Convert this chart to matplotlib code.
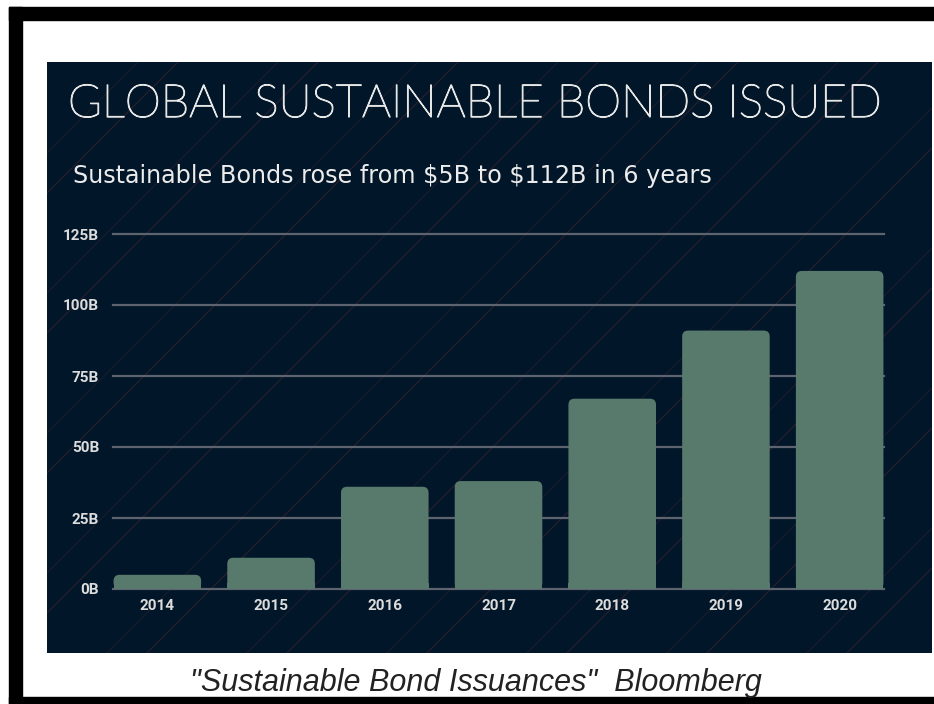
import matplotlib
matplotlib.use("Agg")
import matplotlib.pyplot as plt
from matplotlib.patches import Rectangle, FancyBboxPatch
import matplotlib.patheffects as pe
import numpy as np

years = ["2014", "2015", "2016", "2017", "2018", "2019", "2020"]
issued_billions = [5, 11, 36, 38, 67, 91, 112]
y_ticks = [0, 25, 50, 75, 100, 125]
y_tick_labels = ["0B", "25B", "50B", "75B", "100B", "125B"]

title = "GLOBAL SUSTAINABLE BONDS ISSUED"
subtitle = "Sustainable Bonds rose from \\$5B to \\$112B in 6 years"
caption = "\"Sustainable Bond Issuances\"  Bloomberg"

W, H = 934, 704
fig = plt.figure(figsize=(W / 100, H / 100), dpi=100, facecolor="white")

def fx(px):
    return px / W

def fy(py):
    return 1 - py / H

# black frame
fig.patches.append(Rectangle((fx(9), 0), fx(22) - fx(9), fy(7), transform=fig.transFigure,
                             color="black", zorder=0))
fig.patches.append(Rectangle((fx(9), fy(20)), 1 - fx(9), fy(7) - fy(20), transform=fig.transFigure,
                             color="black", zorder=0))
fig.patches.append(Rectangle((fx(9), 0), 1 - fx(9), fy(697), transform=fig.transFigure,
                             color="black", zorder=0))

# dark panel with faint pattern
panel_bg = "#011628"
bg = fig.add_axes([fx(47), fy(653), fx(932) - fx(47), fy(62) - fy(653)])
bg.set_facecolor(panel_bg)
bg.set_xlim(0, 885)
bg.set_ylim(0, 591)
bg.set_xticks([])
bg.set_yticks([])
for s in bg.spines.values():
    s.set_visible(False)
pat_col = "#402530"
for c in range(-600, 900, 140):
    bg.plot([c, c + 600], [0, 600], color=pat_col, lw=1.0, alpha=0.55, zorder=1)
for c in range(100, 1600, 140):
    bg.plot([c, c - 600], [600, 0], color=pat_col, lw=1.0, alpha=0.35, zorder=1)

# main chart axes
ax = fig.add_axes([fx(113), fy(589), fx(884) - fx(113), fy(234) - fy(589)])
ax.patch.set_alpha(0)
ax.set_xlim(-0.39, 6.39)
ax.set_ylim(0, 125)
for s in ax.spines.values():
    s.set_visible(False)

grid_col = "#5d6470"
for t in y_ticks:
    ax.axhline(t, color=grid_col, lw=1.6, zorder=1, clip_on=False)

x = np.arange(len(years))
bar_w = 0.77
bar_col = "#587a6c"
bars = ax.bar(x, issued_billions, width=bar_w, color=bar_col, zorder=2)
# rounded tops
px_per_x = (884 - 113) / 6.78
px_per_y = (589 - 234) / 125
r_px = 6
aspect = px_per_x / px_per_y
for b in bars:
    bx, by = b.get_x(), b.get_y()
    bw, bh = b.get_width(), b.get_height()
    b.set_visible(False)
    rs = r_px / px_per_x
    p = FancyBboxPatch((bx, by), bw, bh,
                       boxstyle=f"round,pad=0,rounding_size={rs}",
                       mutation_aspect=aspect, facecolor=bar_col, edgecolor="none", zorder=2)
    ax.add_patch(p)
    ax.add_patch(Rectangle((bx, by), bw, min(bh / 2, r_px / px_per_y), facecolor=bar_col,
                           edgecolor="none", zorder=2))

tick_col = "#dcdcdc"
ax.set_yticks(y_ticks)
ax.set_yticklabels(y_tick_labels)
ax.set_xticks(x)
ax.set_xticklabels(years)
ax.tick_params(axis="y", length=0, pad=10, labelsize=11, labelcolor=tick_col)
ax.tick_params(axis="x", length=0, pad=7, labelsize=11, labelcolor=tick_col)
for lbl in ax.get_xticklabels() + ax.get_yticklabels():
    lbl.set_fontfamily("Roboto")
    lbl.set_fontweight("bold")

title_col = "#e6e6e6"
fig.text(fx(68), fy(117), title, fontsize=33, color=title_col, family="Lato",
         fontweight="light", va="baseline", ha="left",
         path_effects=[pe.withStroke(linewidth=0.9, foreground=title_col)])
fig.text(fx(73), fy(183), subtitle, fontsize=17.2, color="#ececec", family="DejaVu Sans",
         va="baseline", ha="left")
fig.text(fx(476), fy(691), caption, fontsize=22, color="#222222", family="Liberation Sans",
         style="italic", va="baseline", ha="center")

fig.savefig("out.png", dpi=100, facecolor="white")
